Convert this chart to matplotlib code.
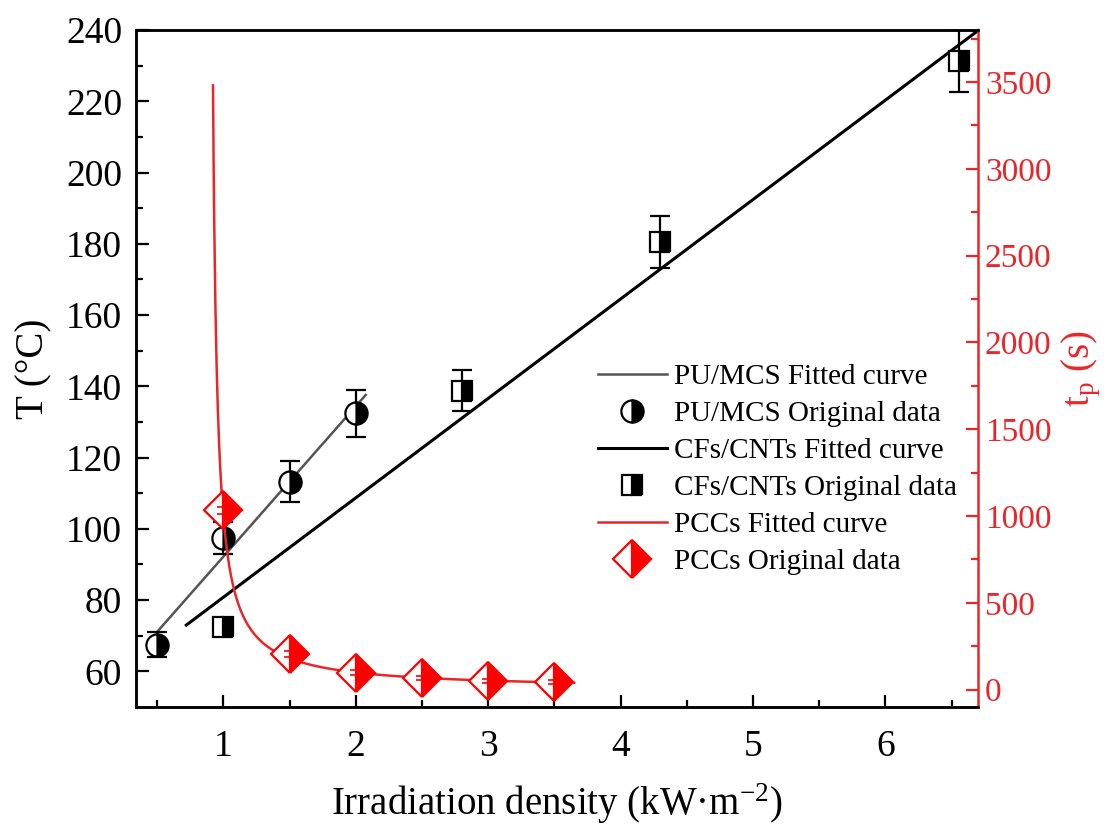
import numpy as np
import matplotlib
matplotlib.use("Agg")
import matplotlib.pyplot as plt
from matplotlib.lines import Line2D

plt.rcParams['font.family'] = ['Liberation Serif', 'DejaVu Serif']
plt.rcParams['mathtext.fontset'] = 'custom'
plt.rcParams['mathtext.rm'] = 'Liberation Serif'
plt.rcParams['mathtext.it'] = 'Liberation Serif:italic'

# ---------------- data ----------------
pu_x = [0.5, 1.0, 1.5, 2.0]
pu_y = [67.5, 97.5, 113.2, 132.4]
pu_err = [3.5, 4.5, 5.7, 6.6]
pu_fit_slope, pu_fit_intercept = 42.2, 50.0
pu_fit_range = [0.5, 2.075]

cf_x = [1.0, 2.8, 4.3, 6.56]
cf_y = [72.5, 138.8, 180.6, 231.3]
cf_err = [2.0, 5.8, 7.3, 8.6]
cf_fit_slope, cf_fit_intercept = 27.9, 52.9
cf_fit_range = [0.72, 6.70]

pcc_x = [1.0, 1.5, 2.0, 2.5, 3.0, 3.5]
pcc_t = [1034, 205, 97, 65, 51, 44]
pcc_err = [20, 15, 15, 12, 12, 12]
# hyperbolic fit t = a / (x - x0)
pcc_fit_a, pcc_fit_x0 = 110.0, 0.89
pcc_fit_range = [0.9216, 3.65]

x_ticks = [1, 2, 3, 4, 5, 6]
y_ticks = [60, 80, 100, 120, 140, 160, 180, 200, 220, 240]
t_ticks = [0, 500, 1000, 1500, 2000, 2500, 3000, 3500]

RED = '#e8262a'
GRAY = '#555555'

CIRC = dict(marker='o', ms=16, fillstyle='right', markerfacecolor='black',
            markerfacecoloralt='white', markeredgecolor='black', mew=1.6)
SQ = dict(marker='s', ms=14, fillstyle='right', markerfacecolor='black',
          markerfacecoloralt='white', markeredgecolor='black', mew=1.6)
DIA = dict(marker='D', ms=19, fillstyle='right', markerfacecolor='red',
           markerfacecoloralt='white', markeredgecolor='red', mew=1.6)

fig = plt.figure(figsize=(11.13, 8.30), dpi=100)
ax = fig.add_axes([136/1113, 1 - 707/830, (978 - 136)/1113, (707 - 30)/830])
ax2 = ax.twinx()

# PU/MCS
xf = np.linspace(*pu_fit_range, 50)
ax.plot(xf, pu_fit_slope * xf + pu_fit_intercept, color=GRAY, lw=1.8, zorder=2)
ax.errorbar(pu_x, pu_y, yerr=pu_err, fmt='none', ecolor='black', elinewidth=1.6,
            capsize=7, capthick=1.6, zorder=3)
ax.plot(pu_x, pu_y, ls='none', zorder=4, **CIRC)

# CFs/CNTs
xf = np.linspace(*cf_fit_range, 50)
ax.plot(xf, cf_fit_slope * xf + cf_fit_intercept, color='black', lw=2.2, zorder=2,
        clip_on=False)
ax.errorbar(cf_x, cf_y, yerr=cf_err, fmt='none', ecolor='black', elinewidth=1.6,
            capsize=7, capthick=1.6, zorder=3)
ax.plot(cf_x, cf_y, ls='none', zorder=4, **SQ)

# PCCs
xf = np.linspace(*pcc_fit_range, 600)
ax2.plot(xf, pcc_fit_a / (xf - pcc_fit_x0), color=RED, lw=1.8, zorder=2)
ax2.plot(pcc_x, pcc_t, ls='none', zorder=3, **DIA)
ax2.errorbar(pcc_x, pcc_t, yerr=pcc_err, fmt='none', ecolor='red', elinewidth=1.2,
             capsize=4, capthick=1.2, zorder=4)

# axes
ax.set_xlim(0.34, 6.70)
ax.set_ylim(50, 240)
ax2.set_ylim(-100, 3800)
ax.set_xticks(x_ticks)
ax.set_xticks([v + 0.5 for v in [0] + x_ticks], minor=True)
ax.set_yticks(y_ticks)
ax.set_yticks([v + 10 for v in [50] + y_ticks[:-1]], minor=True)
ax2.set_yticks(t_ticks)
ax2.set_yticks([v + 250 for v in t_ticks], minor=True)

ax.tick_params(axis='both', which='both', direction='in', top=False, right=False,
               labelsize=27, width=1.6, color='black')
ax.tick_params(which='major', length=9)
ax.tick_params(which='minor', length=5)
ax.tick_params(axis='x', pad=16)
ax.tick_params(axis='y', pad=10)
ax2.tick_params(axis='y', which='both', direction='in', colors=RED, labelsize=24,
                width=1.6, pad=5)
ax2.tick_params(axis='y', which='major', length=9)
ax2.tick_params(axis='y', which='minor', length=5)

for s in ['left', 'bottom', 'top']:
    ax.spines[s].set_linewidth(1.8)
    ax2.spines[s].set_linewidth(1.8)
ax2.spines['right'].set_color(RED)
ax2.spines['right'].set_linewidth(1.8)
ax.spines['right'].set_visible(False)

ax.set_xlabel('Irradiation density (kW·m$^{-2}$)', fontsize=28, labelpad=13)
ax.set_ylabel('T (°C)', fontsize=28, labelpad=10)
ax2.set_ylabel('t$_\\mathregular{p}$ (s)', fontsize=28, color=RED, labelpad=6)

handles = [
    Line2D([], [], color=GRAY, lw=1.8),
    Line2D([], [], ls='none', **CIRC),
    Line2D([], [], color='black', lw=2.2),
    Line2D([], [], ls='none', **SQ),
    Line2D([], [], color=RED, lw=1.8),
    Line2D([], [], ls='none', **DIA),
]
labels = ['PU/MCS Fitted curve', 'PU/MCS Original data', 'CFs/CNTs Fitted curve',
          'CFs/CNTs Original data', 'PCCs Fitted curve', 'PCCs Original data']
fig.legend(handles, labels, loc='upper left', bbox_to_anchor=(598/1113, 1 - 364/830),
           frameon=False, fontsize=21, handlelength=2.35, handletextpad=0.25,
           labelspacing=0.36, borderpad=0, borderaxespad=0)

fig.savefig('out.png', dpi=100)
